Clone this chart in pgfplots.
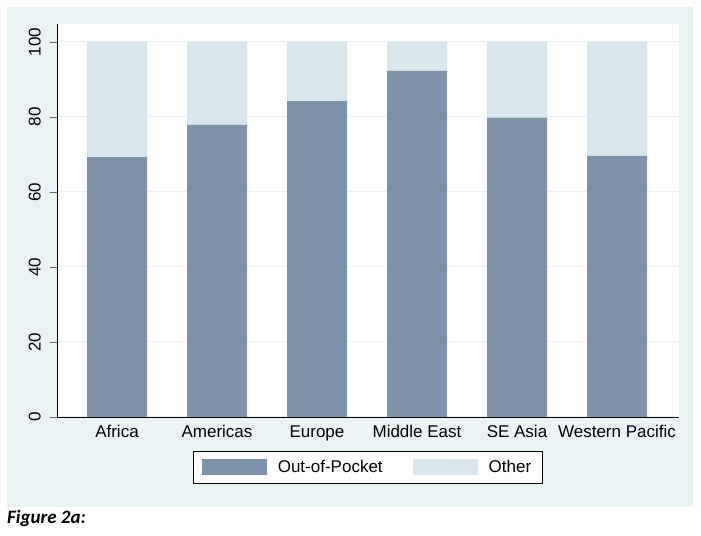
\documentclass[border=0pt]{standalone}
\usepackage{fontspec}
\setmainfont{Liberation Sans}
\newfontfamily\capfont{Carlito}
\usepackage{pgfplots}
\pgfplotsset{compat=1.18}
\definecolor{panel}{HTML}{EAF2F3}
\definecolor{oop}{HTML}{7B92A8}
\definecolor{oth}{HTML}{D9E6EB}
\definecolor{gridc}{HTML}{EAF2F3}

\pgfplotstableread{
x share other
0 69.3 30.7
1 77.9 22.1
2 84.2 15.8
3 92.3 7.7
4 79.8 20.2
5 69.6 30.4
}\regions

\begin{document}
\begin{tikzpicture}
\useasboundingbox (0,0) rectangle (701bp,536bp);
\fill[panel] (7bp,29bp) rectangle (693bp,529bp);
\begin{axis}[
  at={(57bp,119bp)}, anchor=south west,
  width=622bp, height=393bp, scale only axis,
  axis background/.style={fill=white},
  ybar stacked, bar width=60bp,
  xmin=-0.6, xmax=5.62, ymin=0, ymax=104.8,
  enlargelimits=false,
  axis x line*=bottom, axis y line*=left,
  axis line style={black, line width=0.9bp},
  xtick=data,
  xticklabels={Africa, Americas, Europe, Middle East, SE Asia, Western Pacific},
  x tick style={draw=none},
  ytick={0,20,40,60,80,100},
  y tick style={gray!80!black, line width=0.9bp},
  tick align=outside, major tick length=7bp,
  ymajorgrids, major grid style={gridc, line width=1bp},
  /pgf/number format/assume math mode=true,
  tick label style={font=\fontsize{17bp}{20bp}\selectfont},
  yticklabel style={rotate=90, anchor=south, inner sep=9bp},
  xticklabel style={anchor=base, yshift=-14bp, inner sep=0pt},
  legend columns=2,
  legend style={at={(0.5,-0.086)}, anchor=north, draw=black, line width=0.9bp,
    font=\fontsize{17bp}{20bp}\selectfont, inner xsep=2bp, inner ysep=3bp,
    nodes={inner xsep=9bp, inner ysep=6bp},
    /tikz/every even column/.append style={column sep=15bp}},
]
\addplot[fill=oop, draw=none,
  legend image code/.code={\path (0bp,0bp) -- (73bp,0bp);
    \fill[oop] (6bp,-8bp) rectangle (71bp,8bp);}]
  table[x=x, y=share] {\regions};
\addlegendentry{Out-of-Pocket}
\addplot[fill=oth, draw=none,
  legend image code/.code={\path (0bp,0bp) -- (73bp,0bp);
    \fill[oth] (6bp,-8bp) rectangle (71bp,8bp);}]
  table[x=x, y=other] {\regions};
\addlegendentry{Other}
\end{axis}
\node[anchor=base west, inner sep=0, font=\capfont\bfseries\itshape\fontsize{19bp}{22bp}\selectfont] at (7bp,13bp) {Figure 2a:};
\end{tikzpicture}
\end{document}
